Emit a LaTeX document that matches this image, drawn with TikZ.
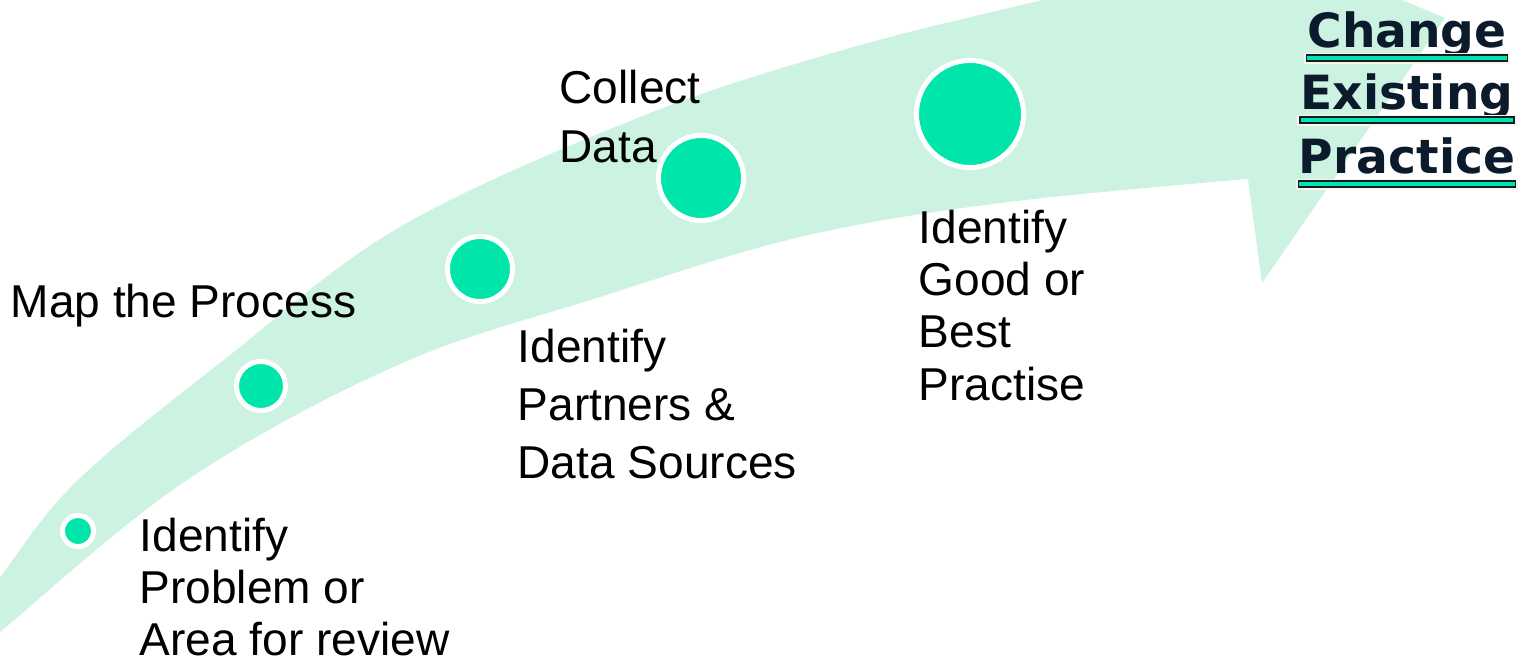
\documentclass[tikz,border=0pt]{standalone}
\usepackage{fontspec}
\setmainfont{Liberation Sans}
\newfontfamily\headfont{DejaVu Sans}
\usepackage{tikz}

\definecolor{bandgreen}{HTML}{CCF3E1}
\definecolor{dotgreen}{HTML}{00E5AA}
\definecolor{headnavy}{HTML}{0B1B2C}
\definecolor{glow}{HTML}{FBF6E8}

\begin{document}
\begin{tikzpicture}[x=0.01cm, y=-0.01cm,
    band/.style={fill=bandgreen},
    dot/.style={circle, fill=dotgreen, draw=white, line width=0.05cm, inner sep=0pt},
    steptext/.style={anchor=base west, align=left, inner sep=0pt},
    headline/.style={anchor=base, inner sep=0pt, text=headnavy, font=\headfont\bfseries\fontsize{13.4}{16}\selectfont},
    uline/.style={fill=dotgreen, draw=headnavy, line width=0.012cm, preaction={draw=glow, line width=0.05cm}}]

\fill[white] (0,0) rectangle (1532,660);
\useasboundingbox (0,0) rectangle (1532,660);

% the curved arrow
\begin{scope}
\clip (0,0) rectangle (1532,660);
\fill[band] plot[smooth, tension=0.6] coordinates {(-60,655) (0,577) (78,480) (230,355) (400,227) (640,117) (843,50) (1043,0) (1171,-28)}
  -- (1148,-106) -- (1445,18) -- (1262,283) -- (1248,179)
  -- plot[smooth, tension=0.6] coordinates {(1248,179) (1000,203) (800,237) (600,297) (400,364) (187,480) (0,632) (-40,666)}
  -- cycle;
\end{scope}

% steps along the arrow
\node[dot, minimum size=0.31cm] (s1) at (78,531) {};
\node[dot, minimum size=0.49cm] (s2) at (261,386) {};
\node[dot, minimum size=0.65cm] (s3) at (480,269) {};
\node[dot, minimum size=0.85cm] (s4) at (701,178) {};
\node[dot, minimum size=1.07cm] (s5) at (970,114) {};

% labels sit on the baseline of their last line
\node[steptext, font=\fontsize{13.1}{14.65}\selectfont] (problem) at (139,655) {Identify\\Problem or\\Area for review};
\node[steptext, font=\fontsize{13.1}{16}\selectfont] (map) at (10,317) {Map the Process};
\node[steptext, font=\fontsize{13.1}{16.36}\selectfont] (partners) at (517,478) {Identify\\Partners \&\\Data Sources};
\node[steptext, font=\fontsize{13.1}{16.64}\selectfont] (collect) at (559,162) {Collect\\Data};
\node[steptext, font=\fontsize{13.1}{14.88}\selectfont] (practise) at (918,400) {Identify\\Good or\\Best\\Practise};

% goal at the arrow tip
\foreach \nm/\txt/\yy in {chg/Change/47, exist/Existing/109, prac/Practice/173} {
  \node[headline] (\nm) at (1407,\yy) {\txt};
  \filldraw[uline] ([yshift=-0.08cm]\nm.base west) rectangle ([yshift=-0.14cm]\nm.base east);
}
\end{tikzpicture}
\end{document}
